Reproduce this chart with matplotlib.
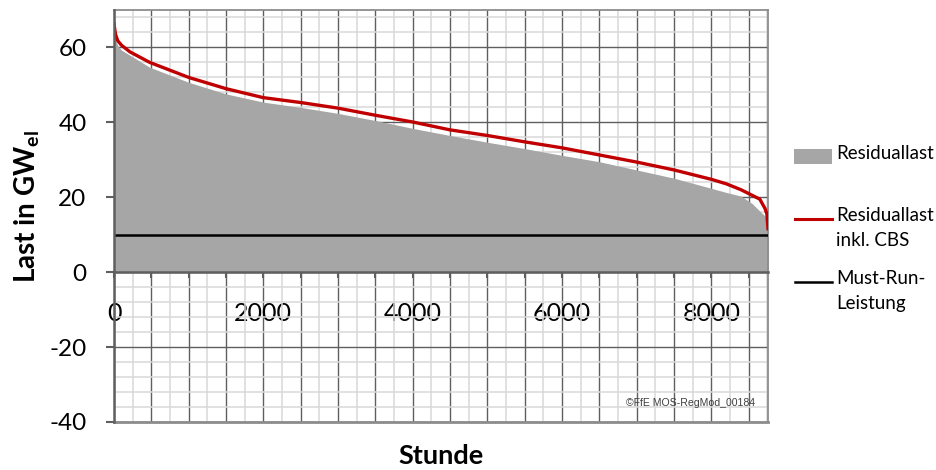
import matplotlib
matplotlib.use('Agg')
import matplotlib.pyplot as plt
from matplotlib.ticker import MultipleLocator, FuncFormatter
from matplotlib.patches import Rectangle
from matplotlib.lines import Line2D

plt.rcParams['font.family'] = ['Lato', 'DejaVu Sans']
plt.rcParams['axes.unicode_minus'] = False
plt.rcParams['mathtext.fontset'] = 'custom'
plt.rcParams['mathtext.bf'] = 'Lato:bold'
plt.rcParams['mathtext.rm'] = 'Lato'

# sorted load duration curves (hour of year -> GW)
hours = [0, 20, 50, 100, 215, 480, 1000, 1500, 2000, 2500, 3000, 3500, 4000, 4500,
         5000, 5500, 6000, 6500, 7000, 7500, 8000, 8200, 8400, 8550, 8650, 8720, 8745, 8760]
residuallast = [63.5, 62.0, 60.5, 59.3, 57.9, 54.7, 50.7, 47.6, 45.4, 44.0, 42.4, 40.5, 38.4, 36.5,
                34.7, 33.0, 31.2, 29.5, 27.3, 25.1, 22.4, 21.3, 20.3, 18.3, 16.3, 15.0, 13.5, 11.5]
residuallast_cbs = [66.3, 63.5, 61.8, 60.6, 58.8, 56.0, 52.0, 49.0, 46.6, 45.3, 43.8, 41.9, 40.1, 38.0,
                    36.5, 34.8, 33.2, 31.3, 29.4, 27.3, 24.8, 23.6, 22.0, 20.5, 19.5, 17.0, 15.5, 11.6]
must_run = 10

legend_labels = ['Residuallast', 'Residuallast\ninkl. CBS', 'Must-Run-\nLeistung']

grey = '#A6A6A6'
red = '#C00000'
dark = '#5F5F5F'
light = '#D9D9D9'

fig = plt.figure(figsize=(9.36, 4.70), dpi=100)
ax = fig.add_axes([114 / 936, 48 / 470, 654 / 936, 412 / 470])

ax.fill_between(hours, 0, residuallast, color=grey, lw=0, zorder=2)
ax.plot(hours, residuallast_cbs, color=red, lw=2.4, zorder=4)
ax.axhline(must_run, color='black', lw=1.8, zorder=4)

ax.set_xlim(0, 8760)
ax.set_ylim(-40, 70)

ax.xaxis.set_major_locator(MultipleLocator(500))
ax.xaxis.set_minor_locator(MultipleLocator(250))
ax.yaxis.set_major_locator(MultipleLocator(20))
ax.yaxis.set_minor_locator(MultipleLocator(4))
ax.xaxis.set_major_formatter(FuncFormatter(lambda v, p: f'{int(v)}' if int(v) % 2000 == 0 else ''))

ax.set_axisbelow(True)
ax.grid(which='major', color=dark, lw=1.0)
ax.grid(which='minor', color=light, lw=1.1)

for s in ['top', 'right']:
    ax.spines[s].set_color('#8C8C8C')
    ax.spines[s].set_linewidth(1.3)
ax.spines['left'].set_color(dark)
ax.spines['left'].set_linewidth(1.8)
ax.spines['left'].set_zorder(5)
ax.spines['bottom'].set_position(('data', 0))
ax.spines['bottom'].set_color(dark)
ax.spines['bottom'].set_linewidth(1.8)
ax.spines['bottom'].set_zorder(5)
ax.axhline(-40, color='#8C8C8C', lw=2.0, clip_on=False, zorder=5)

ax.tick_params(axis='y', which='major', direction='out', length=5.8, width=1.5, color=dark,
               labelsize=17.5, pad=14)
ax.tick_params(axis='x', which='major', direction='out', length=4.3, width=1.5, color=dark,
               labelsize=18, pad=17)
ax.tick_params(which='minor', length=0)

fig.text(441 / 936, 1 - 456 / 470, 'Stunde', fontsize=19.5, fontweight='bold',
         ha='center', va='center')
fig.text(27 / 936, 1 - 207 / 470, r'Last in GW$_{\mathbf{el}}$', rotation=90,
         fontsize=20, fontweight='bold', ha='center', va='center')

ax.text(0.98, 0.045, '©FfE MOS-RegMod_00184', transform=ax.transAxes, ha='right', va='center',
        fontsize=7.6, family='Liberation Sans', color='#404040', zorder=6)

# legend drawn beside the plot
fig.add_artist(Rectangle((794 / 936, 1 - 164 / 470), 38 / 936, 15 / 470,
                         transform=fig.transFigure, color=grey, lw=0))
fig.add_artist(Line2D([795 / 936, 832 / 936], [1 - 219 / 470] * 2, transform=fig.transFigure,
                      color=red, lw=2.2))
fig.add_artist(Line2D([795 / 936, 832 / 936], [1 - 282 / 470] * 2, transform=fig.transFigure,
                      color='black', lw=1.8))
for lab, ytop in zip(legend_labels, [157, 219, 282]):
    fig.text(836 / 936, 1 - (ytop - 12) / 470, lab, fontsize=13.5, ha='left', va='top',
             linespacing=1.6)

fig.savefig('out.png', dpi=100)
